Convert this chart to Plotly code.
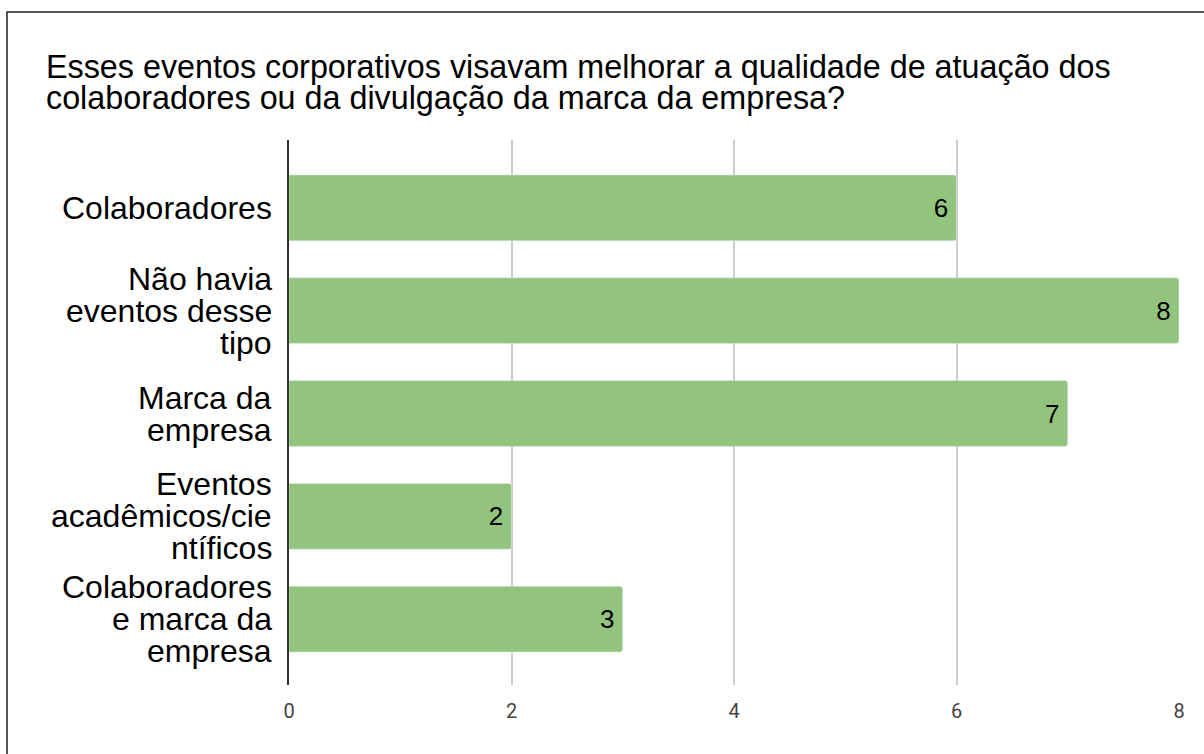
import plotly.graph_objects as go

categorias = ['Colaboradores',
              'Não havia<br>eventos desse<br>tipo',
              'Marca da<br>empresa',
              'Eventos<br>acadêmicos/cie<br>ntíficos',
              'Colaboradores<br>e marca da<br>empresa']
respostas = [6, 8, 7, 2, 3]
ticks_x = [0, 2, 4, 6, 8]

titulo = ['Esses eventos corporativos visavam melhorar a qualidade de atuação dos',
          'colaboradores ou da divulgação da marca da empresa?']

W, H = 1204, 754
L, R, T, B = 289, 25, 140, 69
pw, ph = W - L - R, H - T - B

def px_x(x):
    return (x - L) / pw

def px_y(y):
    return (H - B - y) / ph

fig = go.Figure()
fig.add_trace(go.Bar(
    x=respostas, y=categorias, orientation='h',
    marker=dict(color='#93c47d', cornerradius=3),
    texttemplate='%{x}\u2009', textposition='inside', insidetextanchor='end',
    textfont=dict(family='Liberation Sans, Arial', size=26, color='#000000'),
    width=0.64, hoverinfo='x+y',
))

# rótulos das categorias, linha por linha (espaçamento apertado como no original)
for cat in categorias:
    linhas = cat.split('<br>')
    n = len(linhas)
    for i, linha in enumerate(linhas):
        fig.add_annotation(text=linha, xref='paper', x=0, xanchor='right', xshift=-15,
                           yref='y', y=cat, yanchor='middle', yshift=((n - 1) / 2 - i) * 32,
                           showarrow=False,
                           font=dict(family='Liberation Sans, Arial', size=32, color='#000000'))

# título em duas linhas
for i, linha in enumerate(titulo):
    fig.add_annotation(text=linha, xref='paper', x=px_x(44), xanchor='left',
                       yref='paper', y=px_y(67 + 31 * i), yanchor='middle',
                       showarrow=False,
                       font=dict(family='Liberation Sans, Arial', size=32.3, color='#000000'))

# moldura em volta do gráfico
fig.add_shape(type='rect', xref='paper', yref='paper',
              x0=px_x(7), x1=px_x(1212), y0=px_y(762), y1=px_y(12),
              line=dict(color='#222222', width=1.5), layer='above')

fig.update_layout(
    width=W, height=H,
    margin=dict(l=L, r=R, t=T, b=B),
    paper_bgcolor='white', plot_bgcolor='white',
    showlegend=False,
    xaxis=dict(range=[0, 8], tickvals=ticks_x, showgrid=True, gridcolor='#cccccc', gridwidth=1.5,
               zeroline=False, tickfont=dict(family='Roboto', size=20, color='#444444'),
               ticklabelstandoff=12),
    yaxis=dict(autorange=False, range=[4.64, -0.66], showline=True, linecolor='#333333', linewidth=1.5,
               showticklabels=False),
)

fig.write_html("out.html", config={'displayModeBar': False},
               post_script="document.body.style.margin='0';")
